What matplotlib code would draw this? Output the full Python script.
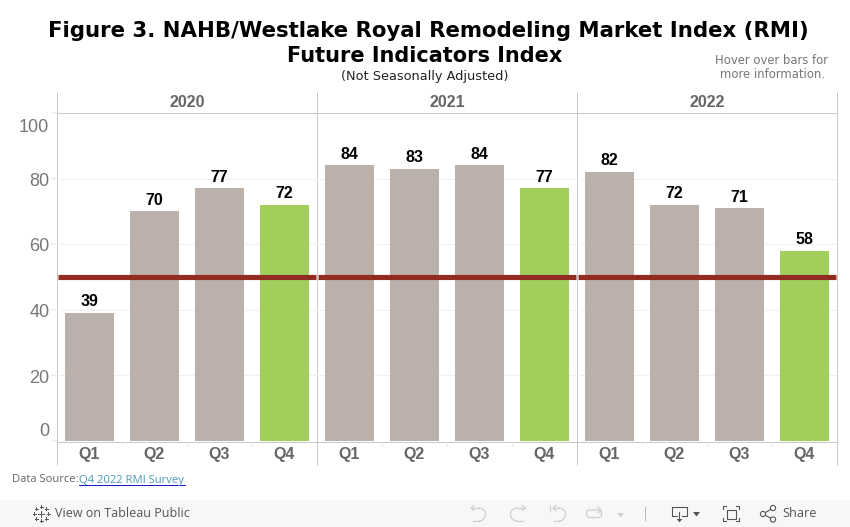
import numpy as np
import matplotlib
matplotlib.use("Agg")
import matplotlib.pyplot as plt
from matplotlib.patches import Rectangle, Circle, FancyBboxPatch

# data
years = ['2020', '2021', '2022']
quarters = ['Q1', 'Q2', 'Q3', 'Q4']
values = [39, 70, 77, 72, 84, 83, 84, 77, 82, 72, 71, 58]
y_ticks = [0, 20, 40, 60, 80, 100]
threshold = 50

W, H = 850, 527
GREY = '#bbb0aa'
GREEN = '#a2cf5c'
RED = '#932c20'
LINE = '#c9c9c9'
TXT = '#666666'
PX = 0.72  # one pixel line at this dpi

fig = plt.figure(figsize=(W / 100, H / 100), dpi=100)

# full figure axes in pixels for the header, panel lines and toolbar
bg = fig.add_axes([0, 0, 1, 1])
bg.set_xlim(0, W)
bg.set_ylim(H, 0)
bg.axis('off')

# plot area, x in bar slots, y in index units
left, right, top, bottom = 57, 837, 113, 441
ax = fig.add_axes([left / W, 1 - bottom / H, (right - left) / W, (bottom - top) / H])
ax.set_xlim(0, 12)
ax.set_ylim(0, 100)
ax.patch.set_alpha(0)
for s in ax.spines.values():
    s.set_visible(False)
ax.set_yticks([])
ax.set_xticks([])

for t in y_ticks[1:-1]:
    ax.axhline(t, color='#f0f0f0', lw=PX, zorder=0)

x = np.arange(12) + 0.5
colors = [GREEN if i % 4 == 3 else GREY for i in range(12)]
ax.bar(x, values, width=0.754, color=colors, zorder=2)

# the reference line is cut at each panel border
for i in range(len(years)):
    ax.hlines(threshold, i * 4 + 0.012, (i + 1) * 4 - 0.012, color=RED, lw=3.7, zorder=3,
              capstyle='butt')

for xi, v in zip(x, values):
    ax.text(xi, v + 1.1, str(v), ha='center', va='bottom', fontsize=11.5, clip_on=False,
            fontweight='bold', family='Liberation Sans', color='black', zorder=4)

# y labels go through the data scale, the end ones are pushed inside the axis
label_shift = {0: 6.5, 100: -10.5}
for t in y_ticks:
    ax.annotate(str(t), xy=(0, t), xycoords=('axes fraction', 'data'),
                xytext=(-5.5, label_shift.get(t, -2)),
                textcoords='offset points', ha='right', va='center', fontsize=13,
                family='Liberation Sans', color='#777777', annotation_clip=False)
    ax.annotate('', xy=(0, t), xycoords=('axes fraction', 'data'), xytext=(-4, 0),
                textcoords='offset points', arrowprops=dict(arrowstyle='-', color='#e6e6e6', lw=PX,
                                                            shrinkA=0, shrinkB=0),
                annotation_clip=False)

# panel frame
panel_x = [57.5, 317.5, 577.5, 837.5]
for px in panel_x:
    bg.plot([px, px], [92, 465], color=LINE, lw=PX, solid_capstyle='butt')
bg.plot([57.5, 837.5], [112.5, 112.5], color=LINE, lw=PX)
bg.plot([57.5, 837.5], [441.5, 441.5], color=LINE, lw=PX)
slot = (right - left) / 12
for i in range(1, 12):
    if i % 4:
        bg.plot([left + i * slot + 0.5] * 2, [441.5, 445], color='#e6e6e6', lw=PX)

for i, yr in enumerate(years):
    bg.text((panel_x[i] + panel_x[i + 1]) / 2, 102.5, yr, ha='center', va='center',
            fontsize=11.5, fontweight='bold', family='Liberation Sans', color=TXT)
for i in range(12):
    bg.text(left + (i + 0.5) * slot, 454, quarters[i % 4], ha='center', va='center',
            fontsize=11.5, fontweight='bold', family='Liberation Sans', color=TXT)

# titles
bg.text(428, 31, 'Figure 3. NAHB/Westlake Royal Remodeling Market Index (RMI)', ha='center',
        va='center', fontsize=15.3, fontweight='bold', family='DejaVu Sans', color='black')
bg.text(424.5, 56, 'Future Indicators Index', ha='center', va='center', fontsize=15,
        fontweight='bold', family='DejaVu Sans', color='black')
bg.text(424.5, 76.5, '(Not Seasonally Adjusted)', ha='center', va='center', fontsize=9.3,
        family='DejaVu Sans', color='#222222')
bg.text(771.5, 61, 'Hover over bars for', ha='center', va='center', fontsize=8.35,
        family='DejaVu Sans', color='#777777')
bg.text(773, 75, 'more information.', ha='center', va='center', fontsize=8.35,
        family='DejaVu Sans', color='#777777')

# source line
bg.text(12, 480, 'Data Source:', ha='left', va='center', fontsize=8.1,
        family='Open Sans', color='#666666')
bg.text(79, 480, 'Q4 2022 RMI Survey', ha='left', va='center', fontsize=8.1,
        family='Open Sans', color='#4f9ab8')
bg.plot([79, 185], [485, 485], color='#1a1acc', lw=PX)

# toolbar
bg.add_patch(Rectangle((0, 500), W, 27, color='#f7f7f7', lw=0))
bg.text(55, 513.5, 'View on Tableau Public', ha='left', va='center', fontsize=9,
        family='Open Sans', color='#555555')
bg.text(782, 513.5, 'Share', ha='left', va='center', fontsize=9.2,
        family='Open Sans', color='#555555')

# tableau logo, small crosses
for cx, cy, r in [(41.5, 513.5, 3), (34.5, 513.5, 1.8), (48.5, 513.5, 1.8), (41.5, 506.5, 1.8),
                  (41.5, 520.5, 1.8), (36.5, 508.5, 1.5), (46.5, 508.5, 1.5), (36.5, 518.5, 1.5),
                  (46.5, 518.5, 1.5)]:
    bg.plot([cx - r, cx + r], [cy, cy], color='#555555', lw=0.7)
    bg.plot([cx, cx], [cy - r, cy + r], color='#555555', lw=0.7)

# undo, redo, revert, refresh (disabled)
ICON = '#cfcfcf'
th = np.linspace(-np.pi / 2, np.pi / 2, 20)
bg.plot(479 + 6.5 * np.cos(th), 514.5 + 6.5 * np.sin(th), color=ICON, lw=0.9)
bg.plot([471, 479], [508, 508], color=ICON, lw=0.9)
bg.plot([473, 479], [521, 521], color=ICON, lw=0.9)
bg.plot([474, 471, 474], [505.5, 508, 510.5], color=ICON, lw=0.9)
bg.plot(517 - 6.5 * np.cos(th), 514.5 + 6.5 * np.sin(th), color=ICON, lw=0.9)
bg.plot([517, 525], [508, 508], color=ICON, lw=0.9)
bg.plot([517, 523], [521, 521], color=ICON, lw=0.9)
bg.plot([522, 525, 522], [505.5, 508, 510.5], color=ICON, lw=0.9)
bg.plot(559 + 6.5 * np.cos(th), 514.5 + 6.5 * np.sin(th), color=ICON, lw=0.9)
bg.plot([553, 559], [508, 508], color=ICON, lw=0.9)
bg.plot([554, 559], [521, 521], color=ICON, lw=0.9)
bg.plot([556, 553, 556], [505.5, 508, 510.5], color=ICON, lw=0.9)
bg.plot([550.5, 550.5], [506, 511], color=ICON, lw=0.9)
bg.add_patch(FancyBboxPatch((586.5, 510), 15, 7.5, boxstyle='round,pad=0,rounding_size=3',
                            fill=False, ec=ICON, lw=0.9))
bg.plot([598, 601, 598], [507, 510, 513], color=ICON, lw=0.9)
bg.fill([617, 624, 620.5], [513, 513, 517.5], color=ICON, lw=0)
bg.plot([645, 645], [507, 520], color='#bbbbbb', lw=PX)

# download, fullscreen, share
DK = '#555555'
bg.plot([677, 672, 672, 687, 687, 682], [516, 516, 507, 507, 516, 516], color=DK, lw=0.8)
bg.plot([679.5, 679.5], [512, 521], color=DK, lw=0.8)
bg.fill([676.5, 682.5, 679.5], [519, 519, 522], color=DK, lw=0)
bg.fill([693, 700, 696.5], [512, 512, 516.5], color=DK, lw=0)
bg.add_patch(Rectangle((727.5, 509.5), 9, 9, fill=False, ec=DK, lw=0.8))
for cx, cy, dx, dy in [(723.5, 506, 1, 1), (739.5, 506, -1, 1), (723.5, 521, 1, -1), (739.5, 521, -1, -1)]:
    bg.plot([cx + 3 * dx, cx, cx], [cy, cy, cy + 3 * dy], color=DK, lw=0.8)
bg.plot([773, 763, 773], [508, 514, 519.5], color=DK, lw=0.8, zorder=3)
for cx, cy in [(773, 508), (763, 514), (773, 519.5)]:
    bg.add_patch(Circle((cx, cy), 2.6, fc='#f7f7f7', ec=DK, lw=0.8, zorder=4))

fig.savefig('out.png', dpi=100)
